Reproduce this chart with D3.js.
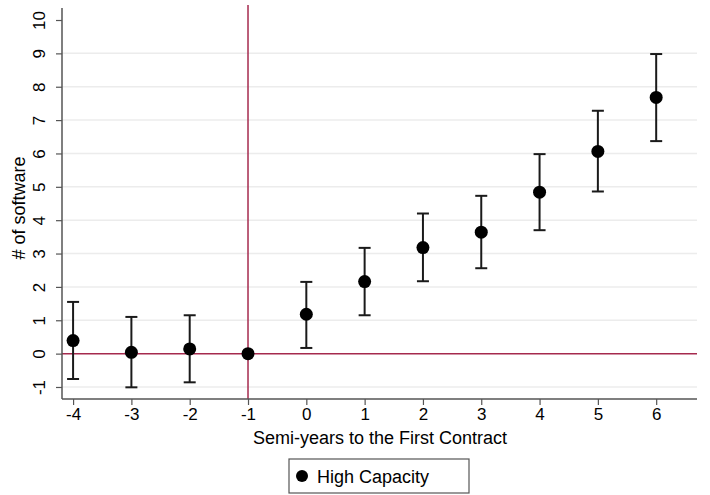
<!DOCTYPE html>
<html><head><meta charset="utf-8">
<script src="https://cdn.jsdelivr.net/npm/d3@7"></script>
<style>body{margin:0;background:#fff}svg{display:block}text{font-family:"Liberation Sans",Arial,sans-serif}</style>
</head><body><svg id="c" width="710" height="495"></svg>
<script>
const periods = [-4,-3,-2,-1,0,1,2,3,4,5,6];
const estimates = [0.39,0.04,0.14,0,1.18,2.16,3.18,3.64,4.84,6.06,7.68];
const lowerCI = [-0.76,-1.01,-0.86,null,0.17,1.15,2.17,2.56,3.70,4.86,6.37];
const upperCI = [1.55,1.10,1.15,null,2.15,3.17,4.20,4.73,5.98,7.28,8.98];
const xTicks = [-4,-3,-2,-1,0,1,2,3,4,5,6];
const yTicks = [-1,0,1,2,3,4,5,6,7,8,9,10];
const seriesName = "High Capacity";

const svg = d3.select("#c");
const mL = 62, mR = 697, mT = 8, mB = 399;
const x = d3.scaleLinear().domain([-4.19, 6.70]).range([mL, mR]);
const y = d3.scaleLinear().domain([-1.36, 10.36]).range([mB, mT]);
const red = "#a52a4e";
const fmt = d => String(d);

// gridlines
svg.append("g").selectAll("line").data(yTicks.filter(d => d !== 0 && d !== 10)).join("line")
  .attr("x1", mL).attr("x2", mR).attr("y1", d => y(d)).attr("y2", d => y(d))
  .attr("stroke", "#ececec").attr("stroke-width", 1.5);

// reference lines
svg.append("line").attr("x1", mL).attr("x2", mR).attr("y1", y(0)).attr("y2", y(0))
  .attr("stroke", red).attr("stroke-width", 1.5);
svg.append("line").attr("x1", x(-1)).attr("x2", x(-1)).attr("y1", mT - 3).attr("y2", mB)
  .attr("stroke", red).attr("stroke-width", 1.5);

// axes
const xAxis = svg.append("g").attr("transform", `translate(0,${mB})`)
  .call(d3.axisBottom(x).tickValues(xTicks).tickSize(6).tickPadding(3).tickFormat(fmt));
const yAxis = svg.append("g").attr("transform", `translate(${mL},0)`)
  .call(d3.axisLeft(y).tickValues(yTicks).tickSize(6).tickPadding(0).tickFormat(fmt));
[xAxis, yAxis].forEach(g => {
  g.select(".domain").attr("stroke", "#555").attr("stroke-width", 1.5);
  g.selectAll(".tick line").attr("stroke", "#555").attr("stroke-width", 1.2);
  g.selectAll("text").attr("fill", "#000").style("font-size", "17px").style("font-family", '"Liberation Sans",Arial,sans-serif');
});
xAxis.select(".domain").attr("d", `M${mL},0H${mR}`);
yAxis.select(".domain").attr("d", `M0,${mT}V${mB}`);
yAxis.selectAll(".tick text").attr("x", null).attr("dy", null)
  .attr("text-anchor", "middle")
  .attr("transform", "translate(-23,0) rotate(-90)")
  .attr("dy", "0.35em");

// error bars
const data = periods.map((p, i) => ({p, e: estimates[i], lo: lowerCI[i], hi: upperCI[i]}));
const eb = svg.append("g").selectAll("g").data(data.filter(d => d.lo !== null)).join("g")
  .attr("stroke", "#1a1a1a").attr("stroke-width", 2);
eb.append("line").attr("x1", d => x(d.p)).attr("x2", d => x(d.p)).attr("y1", d => y(d.lo)).attr("y2", d => y(d.hi));
eb.append("line").attr("x1", d => x(d.p) - 6).attr("x2", d => x(d.p) + 6).attr("y1", d => y(d.lo)).attr("y2", d => y(d.lo));
eb.append("line").attr("x1", d => x(d.p) - 6).attr("x2", d => x(d.p) + 6).attr("y1", d => y(d.hi)).attr("y2", d => y(d.hi));

svg.append("g").selectAll("circle").data(data).join("circle")
  .attr("cx", d => x(d.p)).attr("cy", d => y(d.e)).attr("r", 6.5).attr("fill", "#000");

// titles
svg.append("text").attr("x", 380).attr("y", 444).attr("text-anchor", "middle")
  .style("font-size", "18px").attr("fill", "#000").text("Semi-years to the First Contract");
svg.append("text").attr("transform", "translate(25,208) rotate(-90)").attr("text-anchor", "middle")
  .style("font-size", "18px").attr("fill", "#000").text("# of software");

// legend
svg.append("rect").attr("x", 289).attr("y", 459).attr("width", 180).attr("height", 34)
  .attr("fill", "#fff").attr("stroke", "#555").attr("stroke-width", 1.2);
svg.append("circle").attr("cx", 302).attr("cy", 476).attr("r", 6).attr("fill", "#000");
svg.append("text").attr("x", 317).attr("y", 483).style("font-size", "18px").attr("fill", "#000").text(seriesName);
</script></body></html>
